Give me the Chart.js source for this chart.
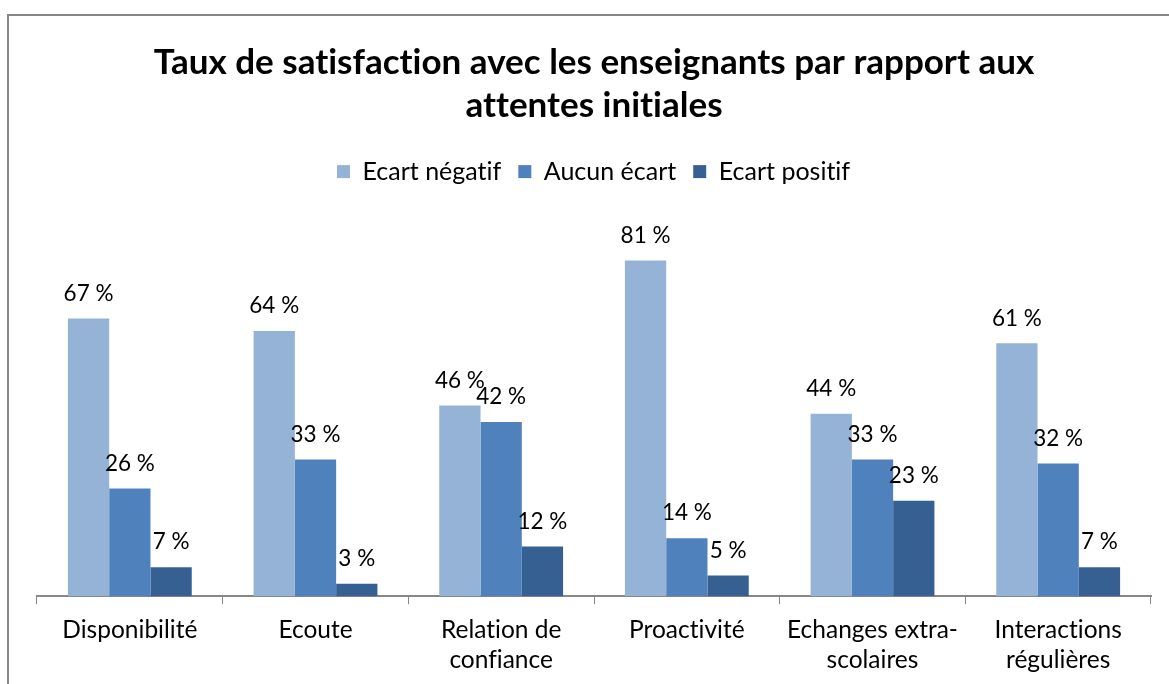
<!DOCTYPE html>
<html lang="fr">
<head>
<meta charset="UTF-8">
<title>Taux de satisfaction</title>
<script src="https://cdn.jsdelivr.net/npm/chart.js"></script>
<style>
  body { margin: 0; background: #fff; overflow: hidden; }
  #frame { position: absolute; left: 7px; top: 14px; width: 1200px; height: 700px; border: 2px solid #878787; }
  #myChart { position: absolute; left: 0; top: 0; }
</style>
</head>
<body>
<div id="frame"></div>
<canvas id="myChart" width="1169" height="684"></canvas>
<script>
const categories = [['Disponibilité'], ['Ecoute'], ['Relation de', 'confiance'], ['Proactivité'], ['Echanges extra-', 'scolaires'], ['Interactions', 'régulières']];
const seriesNames = ['Ecart négatif', 'Aucun écart', 'Ecart positif'];
const ecartNegatif = [67, 64, 46, 81, 44, 61];
const aucunEcart = [26, 33, 42, 14, 33, 32];
const ecartPositif = [7, 3, 12, 5, 23, 7];
const colors = ['#95b3d7', '#4f81bd', '#376092'];

const FONT = 'Lato, "Open Sans", sans-serif';

// no ligatures (Lato joins "ti" / "fi" otherwise)
const plainText = {
  id: 'plainText',
  beforeDraw(chart) {
    chart.ctx.textRendering = 'optimizeSpeed';
  }
};

// draws the "xx %" text above every bar
const valueLabels = {
  id: 'valueLabels',
  afterDatasetsDraw(chart) {
    const ctx = chart.ctx;
    ctx.save();
    ctx.font = '22.5px ' + FONT;
    ctx.fillStyle = '#000';
    ctx.textAlign = 'center';
    ctx.textBaseline = 'middle';
    chart.data.datasets.forEach((ds, i) => {
      chart.getDatasetMeta(i).data.forEach((bar, j) => {
        ctx.fillText(ds.data[j] + ' %', bar.x, bar.y - 25);
      });
    });
    ctx.restore();
  }
};

new Chart(document.getElementById('myChart'), {
  type: 'bar',
  data: {
    labels: categories,
    datasets: [
      { label: seriesNames[0], data: ecartNegatif, backgroundColor: colors[0] },
      { label: seriesNames[1], data: aucunEcart, backgroundColor: colors[1] },
      { label: seriesNames[2], data: ecartPositif, backgroundColor: colors[2] }
    ]
  },
  options: {
    responsive: false,
    animation: false,
    categoryPercentage: 0.667,
    barPercentage: 1,
    layout: { padding: { left: 37, right: 18, top: 24, bottom: 1 } },
    plugins: {
      title: {
        display: true,
        text: ['Taux de satisfaction avec les enseignants par rapport aux', 'attentes initiales'],
        color: '#000',
        font: { family: FONT, size: 35, weight: 'bold', lineHeight: 1.23 },
        padding: { top: 17, bottom: 15 }
      },
      legend: {
        position: 'top',
        labels: {
          color: '#000',
          font: { family: FONT, size: 25 },
          boxWidth: 13,
          boxHeight: 13,
          padding: 17
        }
      },
      tooltip: { enabled: false }
    },
    scales: {
      x: {
        // the category labels sit a little lower under the axis line
        afterFit(scale) { scale.height -= 3; },
        grid: { display: true, drawOnChartArea: false, drawTicks: true, tickLength: 8, color: '#878787', offset: true },
        border: { display: true, color: '#878787', width: 2 },
        ticks: { color: '#000', font: { family: FONT, size: 24.5, lineHeight: 1.22 }, padding: 11, maxRotation: 0, autoSkip: false }
      },
      y: {
        display: false,
        min: 0,
        max: 97
      }
    }
  },
  plugins: [plainText, valueLabels]
});
</script>
</body>
</html>
